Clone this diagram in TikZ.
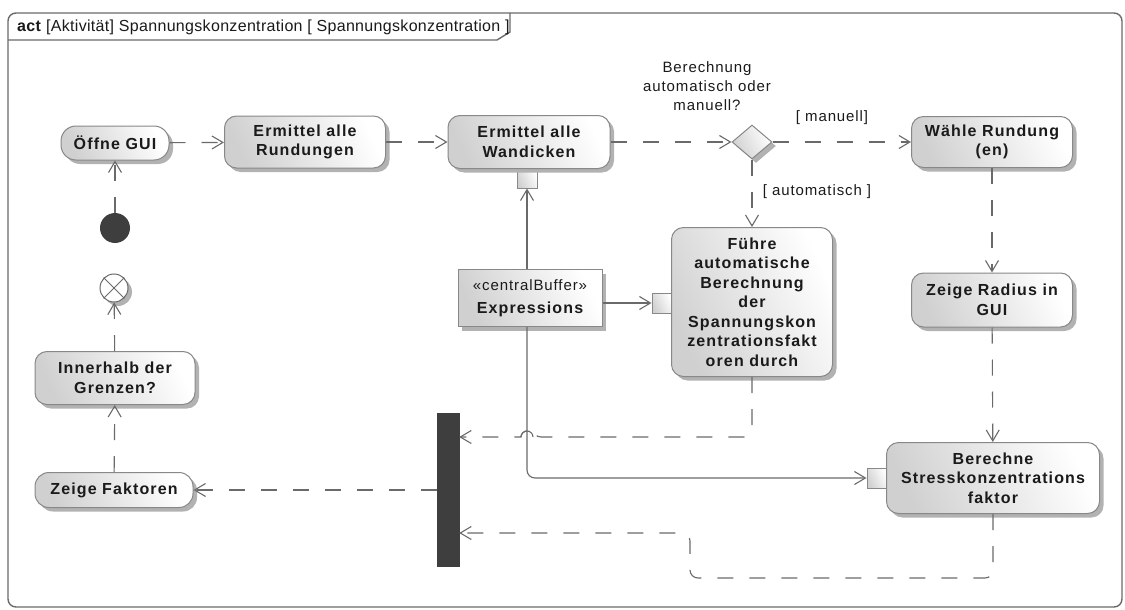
\documentclass[tikz,border=0pt]{standalone}
\usepackage{fontspec}
\setmainfont{Liberation Sans}
\newfontfamily\nodefont{Liberation Sans}[LetterSpace=7]
\newfontfamily\plainfont{Liberation Sans}[LetterSpace=6]
\newfontfamily\titlefont{Liberation Sans}[LetterSpace=2]
\usetikzlibrary{arrows.meta,shapes.geometric,shadows}

\definecolor{edgegray}{HTML}{6A6A6A}
\definecolor{framegray}{HTML}{6A6A6A}
\definecolor{nodeborder}{HTML}{888888}
\definecolor{fillgray}{HTML}{D0D0D0}
\definecolor{shadowgray}{HTML}{B2B2B2}
\definecolor{darkfill}{HTML}{3E3E3E}
\definecolor{txt}{HTML}{1A1A1A}

\tikzset{
  shade box/.style={left color=fillgray, right color=white, shading angle=115},
  soft shadow/.style={drop shadow={shadow xshift=4pt, shadow yshift=-4pt, fill=shadowgray, opacity=1}},
  action/.style={shape=rectangle, draw=nodeborder, line width=1pt, rounded corners=12pt,
    shade box, soft shadow, align=center, text=txt,
    font=\nodefont\bfseries\fontsize{16}{19.5}\selectfont, inner sep=2pt},
  pinbox/.style={shape=rectangle, draw=nodeborder, line width=1pt, shade box,
    minimum size=20pt, inner sep=0pt},
  decision/.style={shape=diamond, draw=nodeborder, line width=1pt, shade box, soft shadow,
    minimum width=40pt, minimum height=34pt, inner sep=0pt},
  buffer/.style={shape=rectangle, draw=nodeborder, line width=1pt, shade box, soft shadow,
    align=center, text=txt, minimum width=144pt, minimum height=57pt, inner sep=2pt,
    font=\fontsize{16}{23}\selectfont},
  startdot/.style={circle, fill=darkfill, minimum size=30pt, inner sep=0pt},
  flowend/.style={circle, draw=edgegray, line width=1pt, fill=white, soft shadow,
    minimum size=28pt, inner sep=0pt},
  joinbar/.style={rectangle, fill=darkfill, draw=darkfill, minimum width=22pt,
    minimum height=153pt, inner sep=0pt},
  guard/.style={text=txt, font=\plainfont\fontsize{15}{19}\selectfont, align=center, inner sep=0pt},
  flow/.style={draw=edgegray, line width=1.1pt, dash pattern=on 16pt off 16pt,
    -{Straight Barb[length=11pt,width=13pt]}},
  objflow/.style={draw=edgegray, line width=1.1pt, -{Straight Barb[length=11pt,width=13pt]}},
}

\begin{document}
\begin{tikzpicture}[x=1pt,y=-1pt]
\useasboundingbox (0,0) rectangle (1125,610);

% diagram frame with its name tab
\draw[draw=framegray, line width=1.4pt, rounded corners=8pt] (8,13) rectangle (1122,607);
\draw[draw=framegray, line width=1.4pt] (8,40) -- (497,40) -- (510,32) -- (510,13);
\node[anchor=west, text=txt, font=\titlefont\fontsize{16}{19}\selectfont, inner sep=0pt] (title) at (17,27)
  {\textbf{act} [Aktivität] Spannungskonzentration [ Spannungskonzentration ]};

% pins (drawn first so the actions sit on top)
\node[pinbox] (wandpin) at (527,178) {};
\node[pinbox] (fpin) at (662,303) {};
\node[pinbox] (bpin) at (877,478) {};

% actions
\node[action, minimum width=108pt, minimum height=34pt, rounded corners=15pt] (oeffne) at (115,143) {Öffne GUI};
\node[action, minimum width=161pt, minimum height=52pt] (rund) at (305,142) {Ermittel alle\\Rundungen};
\node[action, minimum width=162pt, minimum height=53pt] (wand) at (529,142) {Ermittel alle\\Wandicken};
\node[decision] (dec) at (752,142) {};
\node[action, minimum width=161pt, minimum height=51pt] (waehle) at (992,142) {Wähle Rundung\\(en)};
\node[action, minimum width=161pt, minimum height=54pt] (radius) at (992,300) {Zeige Radius in\\GUI};
\node[action, minimum width=161pt, minimum height=149pt] (fuehre) at (752,302)
  {Führe\\automatische\\Berechnung\\der\\Spannungskon\\zentrationsfakt\\oren durch};
\node[buffer] (expr) at (530,298)
  {{\plainfont\fontsize{15}{23}\selectfont «centralBuffer»}\\{\nodefont\bfseries\fontsize{16}{23}\selectfont Expressions}};
\node[action, minimum width=213pt, minimum height=71pt] (ber) at (993,478) {Berechne\\Stresskonzentrations\\faktor};
\node[joinbar] (bar) at (448,489.5) {};
\node[action, minimum width=158pt, minimum height=35pt, rounded corners=14pt] (fak) at (114,490) {Zeige Faktoren};
\node[action, minimum width=160pt, minimum height=53pt] (inner) at (115,378) {Innerhalb der\\Grenzen?};
\node[flowend] (fin) at (114,288) {};
\draw[draw=edgegray, line width=1pt] (fin.north west) -- (fin.south east) (fin.north east) -- (fin.south west);
\node[startdot] (init) at (115,228) {};

% labels
\node[guard] (question) at (707,86) {Berechnung\\automatisch oder\\manuell?};
\node[guard] (gman) at (832,118) {[ manuell]};
\node[guard] (gauto) at (817,192) {[ automatisch ]};

% helper coordinates for bends
\coordinate (j1) at (0,437);
\coordinate (j2) at (0,533);
\coordinate (hopR) at (533,437);

% control flows
\draw[flow] (init) -- (oeffne);
\draw[flow] (oeffne) -- (rund);
\draw[flow] (rund) -- (wand);
\draw[flow] (wand) -- (dec);
\draw[flow] (dec) -- (waehle);
\draw[flow] (dec) -- (fuehre);
\draw[flow] (waehle) -- (radius);
\draw[flow] (radius) -- (ber);
\draw[flow, rounded corners=8pt] (ber.south) -- (993,578) -- (690,578) -- (690,533) -- (bar.east |- j2);
\draw[flow, rounded corners=8pt] (fuehre.south) |- (hopR) [sharp corners]
  arc[start angle=0, end angle=180, radius=6pt] -- (bar.east |- j1);
\draw[draw=edgegray, line width=1.1pt] (hopR) arc[start angle=0, end angle=180, radius=6pt];
\draw[flow] (bar.west |- fak.east) -- (fak.east);
\draw[flow] (fak) -- (inner);
\draw[flow] (inner) -- (fin);

% object flows
\draw[objflow] (expr.north -| wandpin.south) -- (wandpin.south);
\draw[objflow] (expr.east |- fpin.west) -- (fpin.west);
\draw[objflow, rounded corners=8pt] (expr.south -| wandpin.south) |- (bpin.west);
\end{tikzpicture}
\end{document}
